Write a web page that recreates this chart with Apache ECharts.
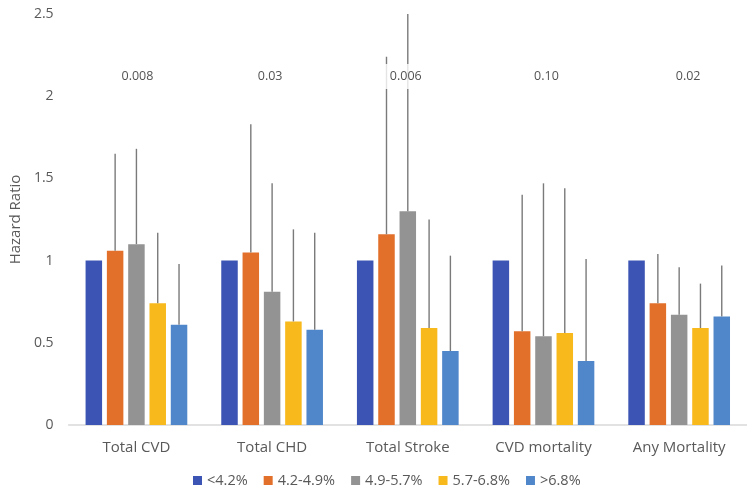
<!DOCTYPE html>
<html>
<head>
<meta charset="utf-8">
<script src="https://cdn.jsdelivr.net/npm/echarts@6/dist/echarts.min.js"></script>
<style>
  html, body { margin: 0; padding: 0; background: #fff; }
  #chart { width: 747px; height: 489px; }
</style>
</head>
<body>
<div id="chart"></div>
<script>
// categories and groups
const categories = ['Total CVD', 'Total CHD', 'Total Stroke', 'CVD mortality', 'Any Mortality']
const groups = ['<4.2%', '4.2-4.9%', '4.9-5.7%', '5.7-6.8%', '>6.8%']

// hazard ratios per group
const hr1 = [1, 1, 1, 1, 1]
const hr2 = [1.06, 1.05, 1.16, 0.57, 0.74]
const hr3 = [1.10, 0.81, 1.30, 0.54, 0.67]
const hr4 = [0.74, 0.63, 0.59, 0.56, 0.59]
const hr5 = [0.61, 0.58, 0.45, 0.39, 0.66]

// upper confidence limits (reference group has none)
const up1 = [null, null, null, null, null]
const up2 = [1.65, 1.83, 2.24, 1.40, 1.04]
const up3 = [1.68, 1.47, 2.5, 1.47, 0.96]
const up4 = [1.17, 1.19, 1.25, 1.44, 0.86]
const up5 = [0.98, 1.17, 1.03, 1.01, 0.97]

// p for trend
const pValues = ['0.008', '0.03', '0.006', '0.10', '0.02']
const pY = 2.12

const yTicks = { min: 0, max: 2.5, interval: 0.5 }

const hrs = [hr1, hr2, hr3, hr4, hr5]
const ups = [up1, up2, up3, up4, up5]
const colors = ['#3c55b4', '#e2702b', '#939393', '#f8b91c', '#5087ca']
const barWidth = 16.5
const barGapPx = 4.8
const pShift = [1, -2, -2, 3, 9]

const myChart = echarts.init(document.getElementById('chart'))

const series = []
hrs.forEach((d, i) => {
  series.push({
    name: groups[i],
    type: 'bar',
    data: d,
    barWidth: barWidth,
    barGap: (barGapPx / barWidth * 100).toFixed(1) + '%',
    itemStyle: { color: colors[i] },
    z: 2
  })
})
// error bars, drawn as plus-only whiskers
ups.forEach((u, i) => {
  const shift = (i - 2) * (barWidth + barGapPx)
  series.push({
    type: 'custom',
    data: u.map((v, k) => [k, hrs[i][k], v]),
    z: 3,
    silent: true,
    renderItem(params, api) {
      const top = api.value(2)
      if (top == null || isNaN(top)) return
      const p0 = api.coord([api.value(0), api.value(1)])
      const p1 = api.coord([api.value(0), top])
      return {
        type: 'line',
        shape: { x1: p0[0] + shift, y1: p0[1], x2: p1[0] + shift, y2: p1[1] },
        style: { stroke: '#7a7a7a', lineWidth: 1.4 }
      }
    }
  })
})
series.push({
  type: 'scatter',
  symbolSize: 0,
  z: 10,
  silent: true,
  data: pValues.map((p, i) => ({
    value: [i, pY],
    label: { formatter: p, offset: [pShift[i], 0] }
  })),
  label: {
    show: true,
    position: 'inside',
    color: '#262626',
    fontSize: 12.5,
    fontFamily: 'Open Sans',
    backgroundColor: '#fff',
    padding: [6, 7]
  }
})

const option = {
  animation: false,
  backgroundColor: '#fff',
  grid: { left: 67, top: 14, width: 692, bottom: 64 },
  legend: {
    data: groups,
    left: 188,
    top: 468,
    icon: 'rect',
    itemWidth: 9,
    itemHeight: 9,
    itemGap: 16,
    textStyle: { fontSize: 14.5, color: '#595959', fontFamily: 'Open Sans' }
  },
  xAxis: {
    type: 'category',
    data: categories,
    axisTick: { show: false },
    axisLine: { lineStyle: { color: '#d9d9d9', width: 1.5 } },
    axisLabel: { fontSize: 15, color: '#595959', fontFamily: 'Open Sans', margin: 15 }
  },
  yAxis: {
    type: 'value',
    min: yTicks.min,
    max: yTicks.max,
    interval: yTicks.interval,
    name: 'Hazard Ratio',
    nameLocation: 'middle',
    nameGap: 40,
    nameTextStyle: { fontSize: 15, color: '#595959', fontFamily: 'Open Sans' },
    splitLine: { show: false },
    axisLine: { show: false },
    axisTick: { show: false },
    axisLabel: { fontSize: 14, color: '#595959', fontFamily: 'Open Sans', margin: 15 }
  },
  series
}

myChart.setOption(option)
</script>
</body>
</html>
